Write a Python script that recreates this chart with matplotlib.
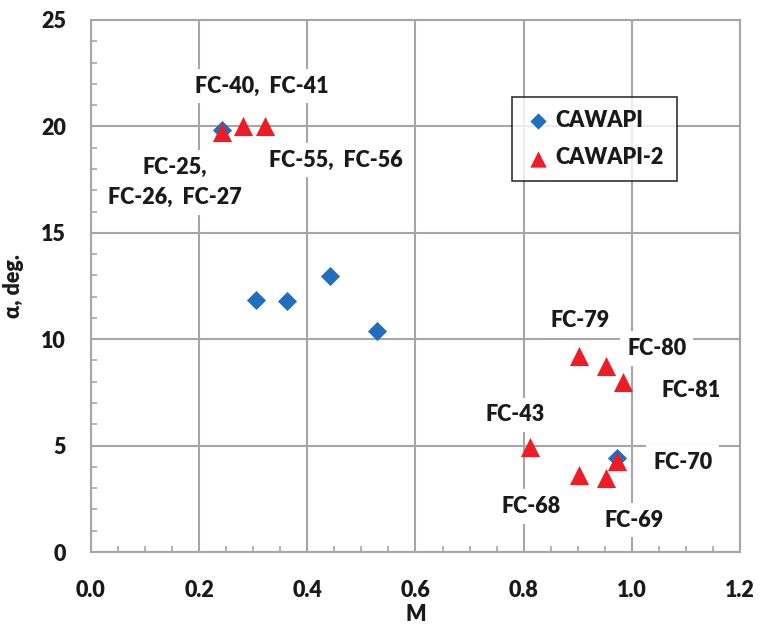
import matplotlib
matplotlib.use("Agg")
import matplotlib.pyplot as plt
from matplotlib.ticker import MultipleLocator

BLUE = "#1f6fbf"
RED = "#ee1c25"
GRID = "#a6a6a6"
INK = "#1a1a1a"

# CAWAPI (diamonds)
cawapi_m = [0.243, 0.306, 0.362, 0.442, 0.529, 0.972]
cawapi_alpha = [19.85, 11.85, 11.8, 12.97, 10.37, 4.4]

# CAWAPI-2 (triangles)
cawapi2_m = [0.243, 0.281, 0.321, 0.902, 0.952, 0.983, 0.811, 0.902, 0.952, 0.972]
cawapi2_alpha = [19.75, 20.0, 20.0, 9.22, 8.72, 8.0, 4.95, 3.6, 3.5, 4.3]

# flight condition labels: text, x, y
label_text = ["FC-40,  FC-41", "FC-55,  FC-56", "FC-25,\nFC-26,  FC-27",
              "FC-79", "FC-80", "FC-81", "FC-43", "FC-70", "FC-68", "FC-69"]
label_x = [0.316, 0.453, 0.155, 0.904, 1.046, 1.109, 0.784, 1.094, 0.813, 1.004]
label_y = [21.9, 18.42, 17.36, 10.87, 9.57, 7.61, 6.44, 4.2, 2.13, 1.5]

FONT = ["Lato", "DejaVu Sans"]
FS = 15.5
WEIGHT = "heavy"
plt.rcParams["font.family"] = FONT
plt.rcParams["font.weight"] = WEIGHT

fig = plt.figure(figsize=(7.67, 6.28), dpi=100)
ax = fig.add_axes([0.1186, 0.121, 0.8462, 0.8472])

ax.set_xlim(0, 1.2)
ax.set_ylim(0, 25)
ax.xaxis.set_major_locator(MultipleLocator(0.2))
ax.xaxis.set_minor_locator(MultipleLocator(0.05))
ax.yaxis.set_major_locator(MultipleLocator(5))
ax.yaxis.set_minor_locator(MultipleLocator(1))
ax.xaxis.set_major_formatter(lambda v, p: f"{v:.1f}")
ax.yaxis.set_major_formatter(lambda v, p: f"{v:.0f}")

ax.grid(True, which="major", color=GRID, linewidth=1.5, zorder=0)
ax.set_axisbelow(True)
for s in ax.spines.values():
    s.set_color(GRID)
    s.set_linewidth(1.5)
ax.tick_params(which="both", direction="in", color=GRID, width=1.2,
               labelsize=FS, labelcolor=INK)
ax.tick_params(which="major", length=0)
ax.tick_params(which="minor", length=4)
ax.tick_params(axis="x", which="major", pad=20)
ax.tick_params(axis="y", which="major", pad=18)

ax.scatter(cawapi_m, cawapi_alpha, marker="D", s=95, color=BLUE,
           linewidths=0, zorder=4, label="CAWAPI")
ax.scatter(cawapi2_m, cawapi2_alpha, marker="^", s=190, color=RED,
           linewidths=0, zorder=5, label="CAWAPI-2")

for t, x, y in zip(label_text, label_x, label_y):
    ax.text(x, y, t, ha="center", va="center", multialignment="center",
            fontsize=FS, fontweight=WEIGHT, color=INK, zorder=3,
            linespacing=1.5,
            bbox=dict(facecolor="white", edgecolor="none", pad=5))

ax.set_xlabel("M", fontsize=FS, fontweight=WEIGHT, color=INK, labelpad=2)
ax.set_ylabel("α, deg.", fontsize=FS, fontweight=WEIGHT, color=INK, labelpad=12)

leg = ax.legend(loc="upper left", bbox_to_anchor=(0.649, 0.855),
                borderaxespad=0, frameon=True, fancybox=False,
                handletextpad=0.2, labelspacing=0.75,
                borderpad=0.6, handlelength=1.2, markerscale=0.85,
                prop={"weight": WEIGHT, "size": FS})
leg.get_frame().set_edgecolor("black")
leg.get_frame().set_linewidth(1.2)
for txt in leg.get_texts():
    txt.set_color(INK)

fig.savefig("out.png", dpi=100)
